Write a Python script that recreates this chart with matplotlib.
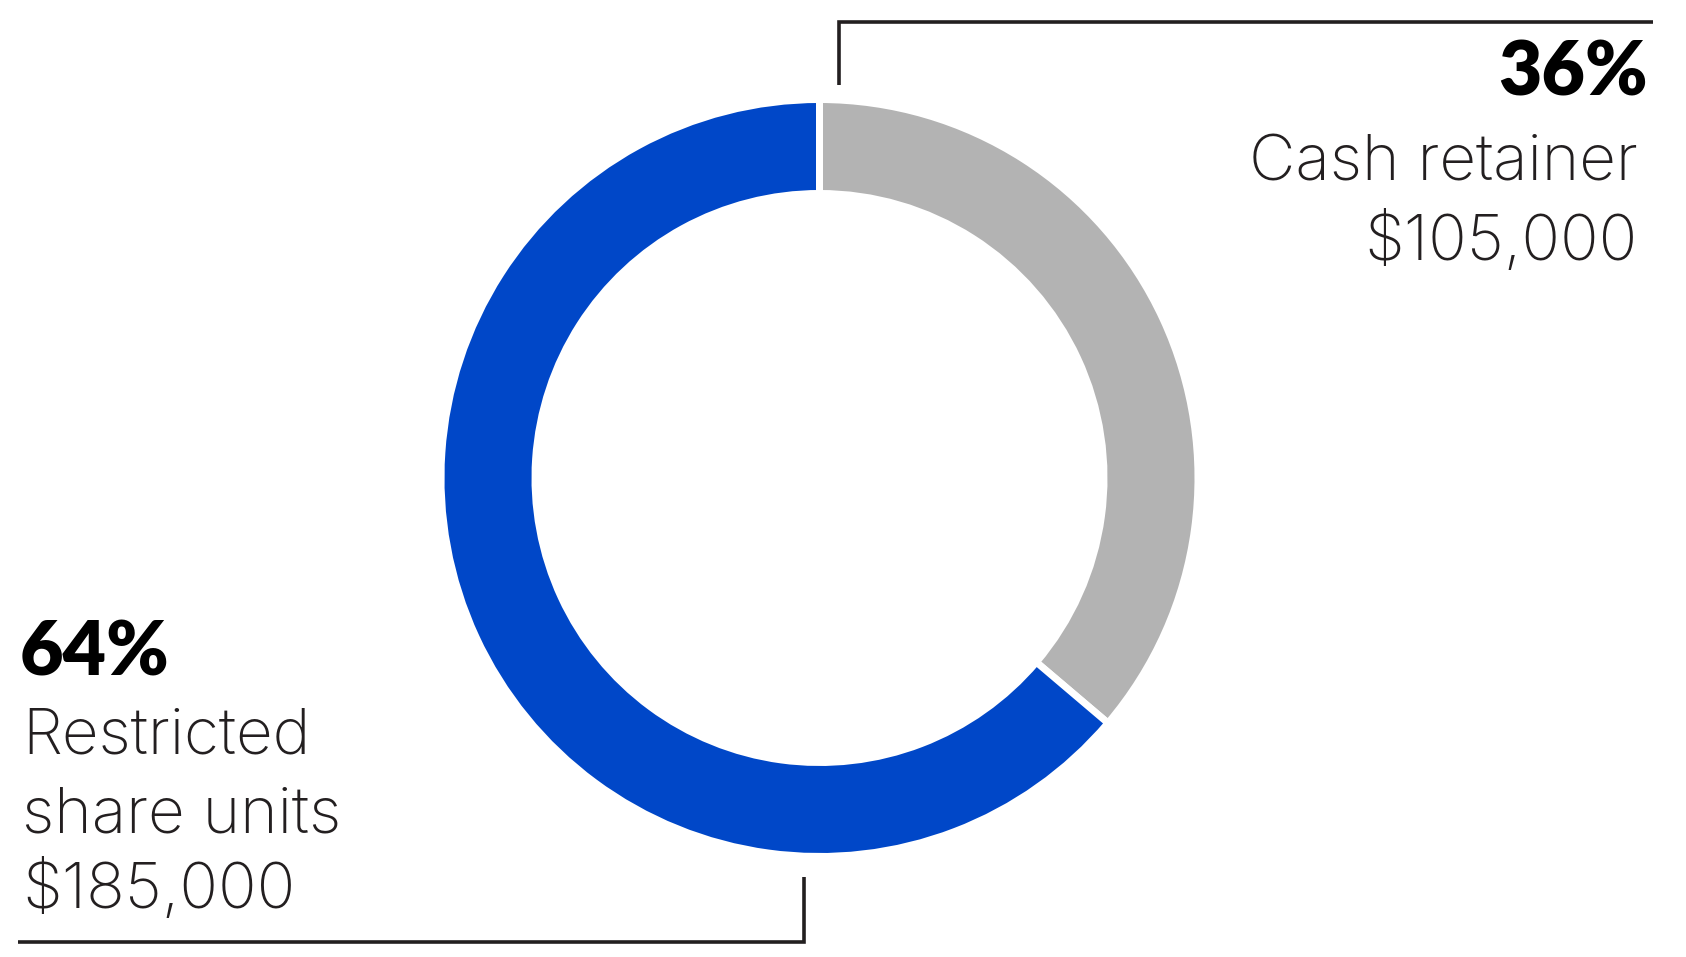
import matplotlib
matplotlib.use("Agg")
import matplotlib.pyplot as plt

# ---- data ----
categories = ["Cash retainer", "Restricted share units"]
label_lines = [["Cash retainer"], ["Restricted", "share units"]]
values = [105000, 185000]
colors = ["#b3b3b3", "#0047c8"]

W, H = 1686, 957
fig = plt.figure(figsize=(W / 100, H / 100), dpi=100)
ax = fig.add_axes([0, 0, 1, 1])

FONT = "Inter"
PCT_FONT = "Lato"
INK = "#231f20"

def Y(y):
    return H - y

cx, cy = 819.5, Y(478)
R_out, R_in = 375, 288
gap = 7.0  # px
lw_pt = gap * 72 / 100
R_draw = R_out + gap / 2
width = (R_out - R_in + gap) / R_draw

ax.pie(values, colors=colors, startangle=90, counterclock=False,
       radius=R_draw, center=(cx, cy), frame=True,
       wedgeprops=dict(width=R_draw * width, edgecolor="white", linewidth=lw_pt))

ax.set_xlim(0, W)
ax.set_ylim(0, H)
ax.set_aspect("equal")
ax.axis("off")

total = sum(values)
pcts = [round(v / total * 100) for v in values]

# connector lines
ax.plot([839, 839, 1653], [Y(85), Y(22), Y(22)], color=INK, lw=2.6,
        solid_joinstyle="miter", solid_capstyle="butt")
ax.plot([18, 804, 804], [Y(942), Y(942), Y(877)], color=INK, lw=2.6,
        solid_joinstyle="miter", solid_capstyle="butt")

PCT_SIZE = 54
TXT_SIZE = 46
TXT_W = "light"

# right label (cash retainer)
ax.text(1648, Y(95), f"{pcts[0]}%", ha="right", va="baseline",
        fontsize=PCT_SIZE, fontweight="heavy", family=PCT_FONT, color="black")
ax.text(1638, Y(180), label_lines[0][0], ha="right", va="baseline",
        fontsize=TXT_SIZE, fontweight=TXT_W, family=FONT, color=INK)
ax.text(1638, Y(260), f"${values[0]:,}", ha="right", va="baseline",
        fontsize=TXT_SIZE, fontweight=TXT_W, family=FONT, color=INK)

# left label (RSUs)
ax.text(20, Y(675), f"{pcts[1]}%", ha="left", va="baseline",
        fontsize=PCT_SIZE, fontweight="heavy", family=PCT_FONT, color="black")
ax.text(22, Y(753), label_lines[1][0], ha="left", va="baseline",
        fontsize=TXT_SIZE, fontweight=TXT_W, family=FONT, color=INK)
ax.text(22, Y(832), label_lines[1][1], ha="left", va="baseline",
        fontsize=TXT_SIZE, fontweight=TXT_W, family=FONT, color=INK)
ax.text(22, Y(908), f"${values[1]:,}", ha="left", va="baseline",
        fontsize=TXT_SIZE, fontweight=TXT_W, family=FONT, color=INK)

fig.savefig("out.png", dpi=100, facecolor="white")
